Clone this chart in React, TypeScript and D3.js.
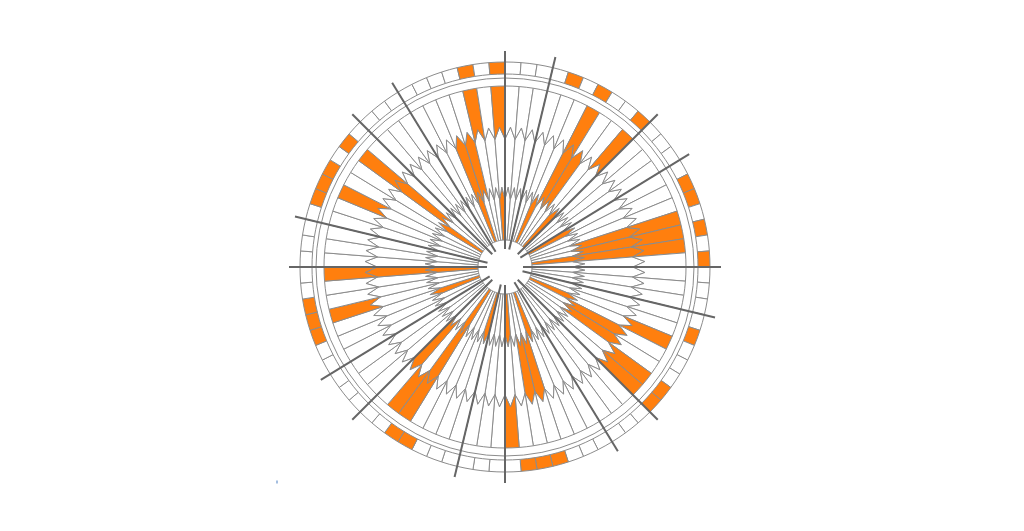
import React from 'react';
import * as d3 from 'd3';

const N_SECTORS = 80;
// sector indices (clockwise from 12 o'clock) whose cells are orange
const level1Orange = [5, 9, 13, 18, 25, 35, 39, 43, 47, 55, 59, 67, 75, 79];
const level2Orange = [6, 7, 16, 17, 18, 26, 27, 36, 37, 47, 49, 59, 68, 75, 76];
const level3Orange = [6, 9, 16, 17, 18, 25, 28, 29, 39, 47, 48, 56, 59, 65, 68, 77, 79];
const outerOrange = [4, 6, 9, 14, 15, 17, 19, 24, 28, 29, 36, 37, 38, 46, 47, 55, 56, 57, 64, 65, 66, 68, 77, 79];
// dark spokes, degrees clockwise from 12 o'clock
const spokeAngles = [0, 13.5, 45, 58.5, 90, 103.5, 135, 148.5, 180, 193.5, 225, 238.5, 270, 283.5, 315, 328.5];

const ORANGE = '#ff7f0e';
const GRID = '#8c8c8c';
const SPOKE = '#666666';

export default function App() {
  const cx = 505;
  const cy = 267;
  const angle = d3.scaleLinear().domain([0, N_SECTORS]).range([0, 2 * Math.PI]);
  const deg = d3.scaleLinear().domain([0, 360]).range([0, 2 * Math.PI]);
  const pt = (a: number, r: number): [number, number] => [cx + r * Math.sin(a), cy - r * Math.cos(a)];

  const bounds = [
    { edge: 27, tip: 27 },
    { edge: 68, tip: 80 },
    { edge: 128, tip: 140 },
    { edge: 181, tip: 181 },
  ];
  const levelSets = [level1Orange, level2Orange, level3Orange];
  const sectors = d3.range(N_SECTORS);
  const line = d3.line();

  const cells: JSX.Element[] = [];
  levelSets.forEach((set, li) => {
    const inner = bounds[li];
    const outer = bounds[li + 1];
    sectors.forEach((k) => {
      const a0 = angle(k);
      const a1 = angle(k + 1);
      const am = angle(k + 0.5);
      const pts: [number, number][] = [
        pt(a0, inner.edge),
        pt(am, inner.tip),
        pt(a1, inner.edge),
        pt(a1, outer.edge),
        pt(am, outer.tip),
        pt(a0, outer.edge),
      ];
      cells.push(
        <path
          key={`c${li}-${k}`}
          d={line(pts) + 'Z'}
          fill={set.includes(k) ? ORANGE : '#fff'}
          stroke={GRID}
          strokeWidth={1}
          strokeLinejoin="round"
        />
      );
    });
  });

  const outerArc = d3.arc();
  const outerCells = sectors.map((k) => (
    <path
      key={`o${k}`}
      transform={`translate(${cx},${cy})`}
      d={outerArc({ innerRadius: 193, outerRadius: 205, startAngle: angle(k), endAngle: angle(k + 1) }) as string}
      fill={outerOrange.includes(k) ? ORANGE : '#fff'}
      stroke={GRID}
      strokeWidth={1}
    />
  ));

  return (
    <svg
      width={1024}
      height={531}
      style={{ position: 'absolute', left: 0, top: 0, background: '#fff' }}
    >
      <g>{cells}</g>
      <circle cx={cx} cy={cy} r={189} fill="none" stroke={GRID} strokeWidth={1} />
      <g>{outerCells}</g>
      <g>
        {spokeAngles.map((d, i) => {
          const [x1, y1] = pt(deg(d), 18);
          const [x2, y2] = pt(deg(d), 216);
          return <line key={`s${i}`} x1={x1} y1={y1} x2={x2} y2={y2} stroke={SPOKE} strokeWidth={2} />;
        })}
      </g>
      <rect x={276.5} y={480.5} width={1} height={3} fill="#4a7fc1" />
    </svg>
  );
}
